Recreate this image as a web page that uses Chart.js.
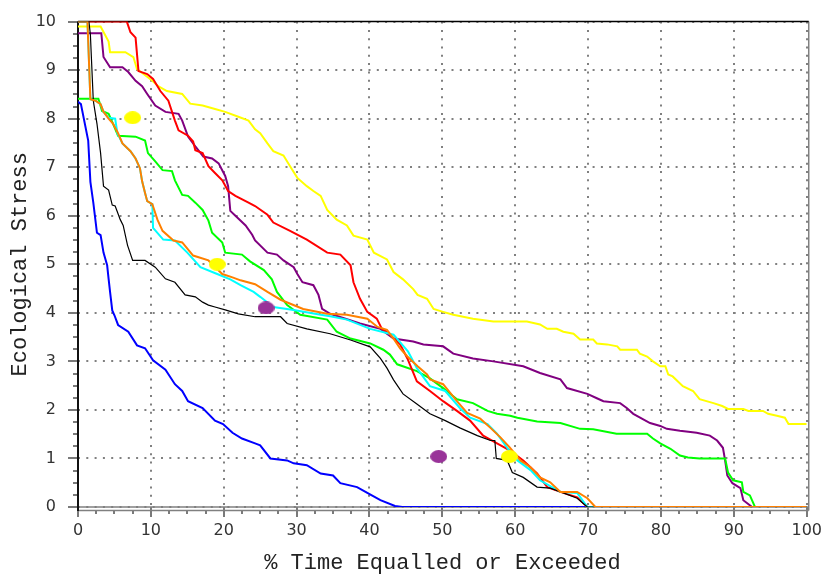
<!DOCTYPE html>
<html>
<head>
<meta charset="utf-8">
<script src="https://cdn.jsdelivr.net/npm/chart.js"></script>
<style>
  html, body { margin: 0; padding: 0; background: #fff; }
  #wrap { width: 826px; height: 579px; }
</style>
</head>
<body>
<div id="wrap"><canvas id="stressChart" width="826" height="579"></canvas></div>
<script>
// axis ticks
const xTickValues = [0, 10, 20, 30, 40, 50, 60, 70, 80, 90, 100];
const yTickValues = [0, 1, 2, 3, 4, 5, 6, 7, 8, 9, 10];

// duration curves: [% time equalled or exceeded, ecological stress]
const blueCurve = [[0,8.35],[0.4,8.3],[1.4,7.55],[1.7,6.7],[2.1,6.27],[2.6,5.65],[3.1,5.6],[3.5,5.24],[4.0,4.98],[4.2,4.7],[4.4,4.43],[4.7,4.05],[5.0,3.95],[5.5,3.75],[6.9,3.61],[8.1,3.33],[9.2,3.27],[10.3,3.02],[12,2.83],[13.3,2.53],[14.3,2.39],[15.1,2.18],[17.1,2.04],[18.8,1.78],[19.9,1.71],[21.2,1.53],[22.5,1.41],[24.3,1.31],[25,1.27],[26.4,1.0],[28.7,0.96],[29.6,0.9],[31.4,0.86],[33.3,0.69],[35,0.65],[36,0.49],[38.3,0.41],[39.7,0.29],[41.5,0.14],[43.5,0.02],[44.5,0],[100,0]];
const blackCurve = [[0,10],[1.5,10],[1.7,9.73],[2.1,8.37],[2.6,7.9],[3.1,7.29],[3.5,6.61],[4.2,6.53],[4.7,6.22],[5.1,6.2],[5.8,5.92],[6.2,5.8],[6.8,5.39],[7.5,5.08],[9.2,5.08],[10.6,4.94],[12,4.7],[13.3,4.63],[14.7,4.37],[16.1,4.33],[17.1,4.22],[17.9,4.16],[18.8,4.12],[20.2,4.06],[22,3.98],[24.3,3.92],[27.8,3.92],[28.7,3.78],[31.4,3.67],[34.6,3.57],[37.4,3.44],[40.1,3.3],[41.5,3.06],[42.4,2.86],[43.3,2.62],[44.6,2.33],[46.5,2.12],[48.3,1.92],[50.4,1.78],[52.4,1.63],[54.8,1.47],[56.6,1.37],[57.2,1.37],[57.4,1.0],[58.9,0.96],[59.6,0.71],[61.1,0.61],[63,0.41],[64.8,0.39],[66.6,0.29],[68.5,0.18],[69.9,0],[100,0]];
const cyanCurve = [[0,10],[1.3,10],[1.7,8.4],[2.4,8.37],[3.1,8.3],[3.5,8.14],[4.2,8.02],[5.1,8.0],[5.4,7.7],[6.1,7.49],[7.2,7.33],[7.9,7.18],[8.5,6.98],[8.8,6.71],[9.2,6.47],[9.5,6.3],[10.2,6.24],[10.3,5.75],[11.7,5.51],[13.3,5.49],[15,5.24],[16.8,4.94],[19.1,4.8],[20.9,4.69],[22.3,4.57],[24.1,4.43],[25,4.33],[26.8,4.12],[29.6,4.06],[33.3,3.96],[34.6,3.93],[36.9,3.86],[40.1,3.67],[43.3,3.55],[45.3,3.2],[46.5,2.86],[48.3,2.49],[50.4,2.39],[52.4,2.04],[53.8,1.84],[56.2,1.71],[57.5,1.51],[58.9,1.22],[60.3,0.96],[62.1,0.76],[63.4,0.55],[66.2,0.31],[68.5,0.29],[69.9,0],[100,0]];
const orangeCurve = [[0,10],[1.3,10],[1.7,8.4],[2.4,8.37],[3.1,8.3],[3.5,8.14],[4.2,8.0],[4.8,7.9],[5.5,7.7],[6.1,7.49],[7.2,7.33],[7.9,7.18],[8.5,6.98],[8.8,6.71],[9.2,6.47],[9.5,6.3],[10.2,6.24],[10.9,5.92],[11.6,5.69],[13.1,5.49],[14.3,5.45],[15.8,5.18],[17.9,5.08],[19.8,4.8],[21.2,4.73],[22.3,4.67],[24.3,4.59],[26,4.43],[27.8,4.27],[30.9,4.08],[34.2,3.98],[36.9,3.96],[39.7,3.88],[41.1,3.71],[42.4,3.65],[43.3,3.47],[44.2,3.27],[45.2,3.1],[46.6,2.9],[47.9,2.73],[48.3,2.63],[50.1,2.53],[52,2.18],[53.4,1.94],[55.2,1.82],[56.6,1.63],[58,1.43],[59.3,1.22],[60.7,0.96],[62.1,0.82],[63.4,0.61],[64.8,0.51],[66.2,0.31],[68.5,0.31],[69.9,0.18],[71,0],[100,0]];
const greenCurve = [[0,8.41],[2.8,8.41],[3.3,8.16],[4.2,8.1],[4.8,7.9],[5.5,7.65],[7.9,7.63],[9.2,7.55],[9.6,7.29],[10.6,7.12],[11.6,6.94],[12.9,6.92],[13.3,6.73],[14.3,6.43],[15.1,6.41],[16.1,6.27],[17.1,6.12],[17.9,5.9],[18.4,5.65],[19.8,5.45],[20.2,5.24],[22.5,5.2],[23.6,5.06],[25.5,4.88],[26.6,4.69],[27.3,4.43],[28.7,4.16],[30.5,3.96],[34.2,3.86],[35.5,3.61],[37.4,3.47],[40.1,3.37],[41.9,3.24],[42.8,3.14],[43.8,2.94],[46.5,2.8],[48.3,2.65],[50.1,2.45],[52,2.22],[54.2,2.14],[56.2,1.98],[57.5,1.92],[59.3,1.88],[60.3,1.84],[63,1.76],[66.2,1.73],[68.9,1.61],[70.7,1.6],[73.9,1.51],[78.1,1.51],[78.9,1.41],[79.9,1.31],[81.3,1.2],[82.6,1.06],[83.7,1.02],[85.3,1.0],[88.8,1.0],[89.2,0.71],[89.9,0.55],[91.1,0.51],[91.3,0.31],[92.2,0.24],[92.9,0],[100,0]];
const purpleCurve = [[0,9.76],[3.2,9.76],[3.5,9.27],[4.4,9.06],[6.1,9.06],[6.9,8.96],[7.9,8.78],[8.8,8.67],[9.5,8.51],[10.6,8.27],[12,8.14],[13.8,8.1],[14.3,7.96],[15.1,7.63],[16.1,7.43],[17.2,7.22],[18.4,7.18],[19.3,7.08],[20.2,6.82],[20.6,6.61],[20.9,6.1],[21.6,6.0],[23,5.8],[23.9,5.61],[24.3,5.49],[26,5.24],[27.3,5.2],[28.2,5.08],[29.6,4.94],[30.1,4.8],[30.8,4.63],[32.3,4.57],[33,4.37],[33.5,4.08],[34.6,3.98],[38.7,3.78],[41.5,3.67],[43.3,3.47],[46,3.41],[47.4,3.35],[50.1,3.31],[51.5,3.16],[54.2,3.06],[57,3.0],[61.1,2.9],[63.4,2.76],[66.2,2.63],[67.1,2.45],[69.9,2.33],[71.2,2.24],[72.1,2.18],[74.4,2.14],[75.3,2.04],[76.2,1.92],[78.5,1.73],[79.9,1.67],[80.8,1.61],[82.6,1.57],[84.9,1.53],[86.7,1.47],[87.7,1.37],[88.5,1.22],[88.8,0.96],[89.1,0.65],[89.8,0.49],[90.9,0.39],[91.3,0.14],[92.5,0],[100,0]];
const redCurve = [[0,10],[6.7,10],[7.2,9.78],[7.9,9.67],[8.3,8.98],[9.5,8.92],[10.3,8.82],[11.3,8.57],[12.4,8.37],[13.3,7.96],[13.8,7.76],[15.1,7.65],[15.8,7.53],[16.1,7.35],[17.1,7.29],[17.9,7.02],[18.8,6.88],[19.8,6.73],[20.6,6.51],[21.6,6.41],[23.4,6.27],[24.3,6.2],[26,6.02],[26.8,5.86],[29.1,5.69],[31.4,5.51],[34.2,5.24],[36,5.2],[37.4,4.98],[37.8,4.63],[38.7,4.29],[39.7,4.02],[41,3.88],[41.7,3.67],[42.4,3.61],[44.2,3.35],[45.2,3.06],[46.5,2.59],[48.3,2.39],[50.1,2.18],[52,1.98],[53.8,1.78],[55.6,1.47],[57.5,1.31],[59.3,1.16],[61.1,0.96],[63,0.69],[64.4,0.41],[66.6,0.29],[68.5,0.2],[69.9,0],[100,0]];
const yellowCurve = [[0,9.9],[3.1,9.9],[4.2,9.59],[4.4,9.37],[6.5,9.37],[7.6,9.27],[8.1,9.02],[9,8.92],[10.2,8.78],[11,8.67],[12.2,8.57],[14.3,8.51],[15.4,8.31],[17.1,8.27],[18.8,8.2],[20.2,8.14],[22,8.04],[23.4,7.96],[24.3,7.78],[25,7.7],[26,7.49],[26.8,7.33],[28.2,7.24],[29.1,7.02],[30.1,6.78],[31.4,6.61],[32.3,6.51],[33.3,6.41],[34.2,6.12],[35.5,5.92],[36.9,5.8],[37.8,5.59],[39.7,5.51],[40.6,5.24],[42.4,5.1],[43.3,4.84],[44.6,4.69],[46,4.49],[46.6,4.37],[47.9,4.29],[48.8,4.08],[50.1,4.02],[51.5,3.96],[54.2,3.88],[57,3.82],[61.6,3.82],[63.4,3.76],[64.4,3.67],[65.7,3.67],[66.6,3.61],[68,3.57],[68.9,3.45],[70.7,3.45],[71.2,3.37],[72.6,3.35],[74,3.31],[74.4,3.24],[76.7,3.24],[77.1,3.16],[78.1,3.1],[78.9,3.0],[79.9,2.9],[80.6,2.9],[81,2.73],[81.6,2.69],[83,2.49],[84.4,2.39],[85.3,2.22],[87.2,2.14],[88.4,2.08],[89.2,2.02],[91.3,2.02],[92,1.98],[94,1.98],[94.7,1.92],[95.9,1.88],[97,1.84],[97.5,1.71],[100,1.71]];

// single observed points
const yellowPoints = [[7.5,8.02],[19.1,5.0],[59.2,1.04]];
const purplePoints = [[25.8,4.1],[49.5,1.04]];

// flat ellipse used as the marker shape
function makeDot(color, w, h) {
    const c = document.createElement('canvas');
    c.width = w; c.height = h;
    const g = c.getContext('2d');
    g.fillStyle = color;
    g.beginPath();
    g.ellipse(w / 2, h / 2, w / 2, h / 2, 0, 0, Math.PI * 2);
    g.fill();
    return c;
}

function curve(label, data, color, width) {
    return {
        label: label,
        data: data,
        borderColor: color,
        borderWidth: width,
        pointRadius: 0,
        fill: false,
        tension: 0
    };
}

function dots(label, data, marker) {
    return {
        type: 'scatter',
        label: label,
        data: data,
        pointStyle: marker,
        pointRadius: 8,
        showLine: false
    };
}

// minor ticks, solid axes, doubled bottom axis, top and right frame
const frame = {
    id: 'frame',
    beforeDatasetsDraw(chart) {
        const {ctx, chartArea: a, scales: {x, y}} = chart;
        ctx.save();
        ctx.setLineDash([]);
        ctx.strokeStyle = '#7a7a7a';
        ctx.lineWidth = 2;
        ctx.beginPath();
        for (let v = 0.25; v < 10; v += 0.25) {
            if (Math.abs(v - Math.round(v)) < 1e-6) continue;
            const py = Math.round(y.getPixelForValue(v));
            ctx.moveTo(a.left - 5, py);
            ctx.lineTo(a.left, py);
        }
        for (let v = 2.5; v < 100; v += 2.5) {
            if (Math.abs(v / 10 - Math.round(v / 10)) < 1e-6) continue;
            const px = Math.round(x.getPixelForValue(v));
            ctx.moveTo(px, a.bottom + 3);
            ctx.lineTo(px, a.bottom + 7);
        }
        ctx.stroke();

        ctx.lineWidth = 1.5;
        ctx.strokeStyle = '#808080';
        ctx.beginPath();
        ctx.moveTo(a.left, a.bottom);
        ctx.lineTo(a.right + 2, a.bottom);
        ctx.moveTo(a.left, a.bottom + 3.5);
        ctx.lineTo(a.right + 2, a.bottom + 3.5);
        ctx.moveTo(a.right + 2, a.top);
        ctx.lineTo(a.right + 2, a.bottom + 3.5);
        ctx.stroke();

        ctx.strokeStyle = '#000';
        ctx.lineWidth = 1.5;
        ctx.beginPath();
        ctx.moveTo(a.left, a.top);
        ctx.lineTo(a.right + 2, a.top);
        ctx.stroke();

        ctx.strokeStyle = '#111';
        ctx.lineWidth = 2;
        ctx.beginPath();
        ctx.moveTo(a.left, a.top);
        ctx.lineTo(a.left, a.bottom + 4);
        ctx.stroke();
        ctx.restore();
    }
};

new Chart(document.getElementById('stressChart').getContext('2d'), {
    type: 'line',
    data: {
        datasets: [
            dots('Observed', yellowPoints, makeDot('#ffff00', 17, 13)),
            dots('Observed (purple)', purplePoints, makeDot('#993399', 17, 13)),
            curve('Orange', orangeCurve, '#ff8000', 2),
            curve('Black', blackCurve, '#000000', 1.2),
            curve('Cyan', cyanCurve, '#00ffff', 2),
            curve('Red', redCurve, '#ff0000', 2),
            curve('Green', greenCurve, '#00ff00', 2),
            curve('Purple', purpleCurve, '#800080', 2),
            curve('Yellow', yellowCurve, '#ffff00', 2),
            curve('Blue', blueCurve, '#0000ff', 2)
        ]
    },
    options: {
        responsive: false,
        animation: false,
        events: [],
        layout: { padding: { top: 17, right: 19, left: 0, bottom: 0 } },
        plugins: {
            legend: { display: false },
            tooltip: { enabled: false }
        },
        scales: {
            x: {
                type: 'linear',
                min: 0,
                max: 100,
                afterBuildTicks: (s) => { s.ticks = xTickValues.map(v => ({ value: v })); },
                afterFit: (s) => { s.height = 72; },
                ticks: {
                    padding: 4,
                    color: '#333',
                    font: { family: 'DejaVu Sans', size: 16 }
                },
                grid: {
                    color: '#808080',
                    lineWidth: 2,
                    tickLength: 10,
                    tickColor: '#7a7a7a',
                    tickWidth: 2,
                    tickBorderDash: []
                },
                border: { display: false, dash: [2, 6.3] },
                title: {
                    display: true,
                    text: '% Time Equalled or Exceeded',
                    color: '#222',
                    font: { family: 'Liberation Mono', size: 22 },
                    padding: { top: 0, bottom: 3 }
                }
            },
            y: {
                type: 'linear',
                min: 0,
                max: 10,
                afterBuildTicks: (s) => { s.ticks = yTickValues.map(v => ({ value: v })); },
                afterFit: (s) => { s.width = 78; },
                ticks: {
                    padding: 12,
                    color: '#333',
                    font: { family: 'DejaVu Sans', size: 16 }
                },
                grid: {
                    color: '#808080',
                    lineWidth: 2,
                    tickLength: 10,
                    tickColor: '#7a7a7a',
                    tickWidth: 2,
                    tickBorderDash: []
                },
                border: { display: false, dash: [2, 6.3] },
                title: {
                    display: true,
                    text: 'Ecological Stress',
                    color: '#222',
                    font: { family: 'Liberation Mono', size: 22 },
                    padding: { top: 7, bottom: 0 }
                }
            }
        }
    },
    plugins: [frame]
});
</script>
</body>
</html>
